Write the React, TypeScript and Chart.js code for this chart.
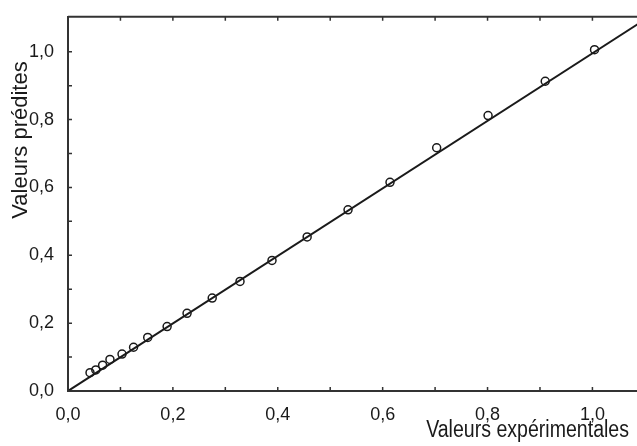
import React, { useEffect, useRef } from "react";
import { Chart, registerables } from "chart.js";

Chart.register(...registerables);

const experimental = [0.042, 0.053, 0.066, 0.080, 0.103, 0.125, 0.152, 0.189, 0.227, 0.275, 0.328, 0.389, 0.456, 0.534, 0.614, 0.703, 0.801, 0.910, 1.004];
const predicted = [0.054, 0.062, 0.076, 0.093, 0.109, 0.129, 0.158, 0.190, 0.229, 0.274, 0.323, 0.385, 0.454, 0.534, 0.615, 0.717, 0.812, 0.913, 1.006];
const fitLineX = [0, 1.09];
const fitLineY = [0, 1.085];
const tickValues = [0, 0.1, 0.2, 0.3, 0.4, 0.5, 0.6, 0.7, 0.8, 0.9, 1.0];
const xTitle = "Valeurs expérimentales";
const yTitle = "Valeurs prédites";

const FONT = "'Liberation Sans', Arial, sans-serif";
const INK = "#1a1a1a";

const fmt = (v: number) => {
  const r = Math.round(v * 10);
  if (r % 2 !== 0 || r > 10) return "";
  return (r / 10).toFixed(1).replace(".", ",");
};

const setTicks = (s: any) => {
  s.ticks = tickValues.map((value) => ({ value }));
};

const framePlugin = {
  id: "frame",
  afterDraw(chart: any) {
    const { ctx, chartArea, scales } = chart;
    const { left, right, top, bottom } = chartArea;
    const xs = scales.x;
    const ys = scales.y;
    ctx.save();
    ctx.strokeStyle = "#333333";
    ctx.lineWidth = 2;
    ctx.beginPath();
    ctx.moveTo(left, top);
    ctx.lineTo(right, top);
    ctx.stroke();
    ctx.lineWidth = 1.5;
    ctx.beginPath();
    for (const v of tickValues) {
      const px = xs.getPixelForValue(v);
      ctx.moveTo(px, bottom);
      ctx.lineTo(px, bottom - 4);
      ctx.moveTo(px, top);
      ctx.lineTo(px, top + 4);
      const py = ys.getPixelForValue(v);
      ctx.moveTo(left, py);
      ctx.lineTo(left + 4, py);
    }
    ctx.stroke();
    ctx.fillStyle = INK;
    ctx.save();
    ctx.font = `23px ${FONT}`;
    ctx.textAlign = "right";
    ctx.textBaseline = "alphabetic";
    ctx.translate(629, 437);
    ctx.scale(0.85, 1);
    ctx.fillText(xTitle, 0, 0);
    ctx.restore();
    ctx.translate(21, 140);
    ctx.rotate(-Math.PI / 2);
    ctx.textAlign = "center";
    ctx.textBaseline = "middle";
    ctx.font = `22px ${FONT}`;
    ctx.fillText(yTitle, 0, 0);
    ctx.restore();
  },
};

export default function App() {
  const ref = useRef<HTMLCanvasElement | null>(null);
  useEffect(() => {
    document.body.style.margin = "0";
    const canvas = ref.current;
    if (!canvas) return;
    const chart = new Chart(canvas, {
      type: "scatter",
      data: {
        datasets: [
          {
            type: "line",
            data: fitLineX.map((x, i) => ({ x, y: fitLineY[i] })),
            borderColor: INK,
            borderWidth: 2,
            pointRadius: 0,
            fill: false,
          } as any,
          {
            data: experimental.map((x, i) => ({ x, y: predicted[i] })),
            pointStyle: "circle",
            pointRadius: 4,
            borderColor: INK,
            borderWidth: 1.5,
            backgroundColor: "rgba(255,255,255,0)",
          },
        ],
      },
      options: {
        animation: false,
        responsive: false,
        maintainAspectRatio: false,
        layout: { autoPadding: false, padding: { top: 16, right: 0, left: 0, bottom: 0 } },
        plugins: { legend: { display: false }, tooltip: { enabled: false } },
        scales: {
          x: {
            type: "linear",
            min: 0,
            max: 1.085,
            grid: { display: false },
            border: { display: true, color: "#333333", width: 2 },
            afterBuildTicks: setTicks,
            ticks: {
              autoSkip: false,
              maxRotation: 0,
              padding: 5,
              color: INK,
              font: { family: FONT, size: 18 },
              callback: (v: any) => fmt(Number(v)),
            },
            afterFit: (s: any) => {
              s.height = 55;
            },
          },
          y: {
            type: "linear",
            min: 0,
            max: 1.103,
            grid: { display: false },
            border: { display: true, color: "#333333", width: 2 },
            afterBuildTicks: setTicks,
            ticks: {
              autoSkip: false,
              padding: 6,
              color: INK,
              font: { family: FONT, size: 18 },
              callback: (v: any) => fmt(Number(v)),
            },
            afterFit: (s: any) => {
              s.width = 68;
            },
          },
        },
      },
      plugins: [framePlugin],
    } as any);
    return () => chart.destroy();
  }, []);
  return (
    <div style={{ position: "relative", width: 637, height: 446 }}>
      <canvas ref={ref} width={637} height={446} style={{ display: "block" }} />
    </div>
  );
}
